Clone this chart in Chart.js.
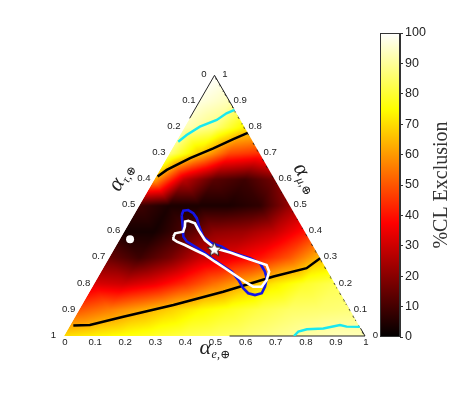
<!DOCTYPE html>
<html>
<head>
<meta charset="utf-8">
<script src="https://cdn.jsdelivr.net/npm/chart.js@4.4.1/dist/chart.umd.min.js"></script>
<style>
  html, body { margin: 0; padding: 0; background: #fff; }
  #wrap { position: relative; width: 457px; height: 398px; }
  #tern { position: absolute; left: 0; top: 0; width: 457px; height: 398px; }
  #cbar { position: absolute; left: 370px; top: 0; width: 87px; height: 398px; }
</style>
</head>
<body>
<div id="wrap">
  <canvas id="tern" width="457" height="398"></canvas>
  <canvas id="cbar" width="87" height="398"></canvas>
</div>
<script>
// ternary tick values and labels (same on all three sides)
const tickVals = [0, 0.1, 0.2, 0.3, 0.4, 0.5, 0.6, 0.7, 0.8, 0.9, 1];
const tickText = ['0', '0.1', '0.2', '0.3', '0.4', '0.5', '0.6', '0.7', '0.8', '0.9', '1'];
const cbTicks = [0, 10, 20, 30, 40, 50, 60, 70, 80, 90, 100];

// %CL exclusion read on a 0.1 grid: row k is alpha_mu = k/10, entries are alpha_e = 0, 0.1, ...
const heatRows = [
  [70, 73, 76, 79, 82, 84, 86, 88.5, 91, 93, 93],
  [50, 56, 62, 68, 74, 78, 82, 85, 86, 87],
  [32, 30, 35, 44, 54, 63, 72, 79, 83],
  [15, 9, 17, 29, 34, 40, 50, 65],
  [3, 3, 11, 21, 23, 29, 40],
  [9, 4, 4, 4, 7, 22],
  [62, 28, 13, 9, 17],
  [87, 67, 48, 44],
  [93, 87, 73],
  [97, 93],
  [100]
];

// contours, points as [alpha_e, alpha_mu]
const blackUpper = [[0.005, 0.612], [0.023, 0.637], [0.078, 0.682], [0.136, 0.72], [0.185, 0.755], [0.221, 0.779]];
const blackLower = [[0.011, 0.040], [0.065, 0.042], [0.160, 0.074], [0.304, 0.119], [0.444, 0.170], [0.582, 0.228], [0.676, 0.260], [0.702, 0.298]];
const cyanUpper = [[0.007, 0.745], [0.022, 0.771], [0.050, 0.803], [0.093, 0.829], [0.113, 0.854], [0.133, 0.867]];
const cyanLower = [[0.764, 0], [0.770, 0.017], [0.794, 0.026], [0.847, 0.029], [0.896, 0.042], [0.921, 0.036], [0.965, 0.035]];
const blueRegion = [
  [0.159, 0.464], [0.156, 0.481], [0.171, 0.483], [0.194, 0.471], [0.215, 0.452], [0.240, 0.419],
  [0.272, 0.381], [0.313, 0.356], [0.353, 0.343], [0.390, 0.323], [0.429, 0.311], [0.469, 0.298],
  [0.512, 0.279], [0.544, 0.247], [0.563, 0.221], [0.573, 0.189], [0.575, 0.164], [0.556, 0.157],
  [0.530, 0.164], [0.504, 0.183], [0.472, 0.215], [0.434, 0.247], [0.388, 0.272], [0.342, 0.298],
  [0.301, 0.323], [0.264, 0.343], [0.227, 0.362], [0.206, 0.381], [0.185, 0.419], [0.159, 0.464]
];
const whiteRegion = [
  [0.173, 0.381], [0.172, 0.394], [0.196, 0.400], [0.192, 0.419], [0.183, 0.439], [0.192, 0.442],
  [0.219, 0.432], [0.243, 0.407], [0.284, 0.368], [0.334, 0.336], [0.392, 0.320], [0.445, 0.302],
  [0.498, 0.285], [0.537, 0.272], [0.558, 0.247], [0.566, 0.215], [0.562, 0.189], [0.534, 0.189],
  [0.497, 0.208], [0.451, 0.234], [0.405, 0.260], [0.359, 0.285], [0.313, 0.311], [0.270, 0.330],
  [0.227, 0.349], [0.194, 0.362], [0.178, 0.371], [0.173, 0.381]
];
const bestFit = [[0.333, 0.333]];
const dotPoint = [[0.034, 0.371]];

const S = Math.sqrt(3) / 2;
const toXY = p => ({ x: p[0] + p[1] / 2, y: p[1] * S });

function hot(v) {
  const t = Math.max(0, Math.min(1, v / 100));
  const r = Math.min(1, t / 0.375);
  const g = Math.max(0, Math.min(1, (t - 0.375) / 0.375));
  const b = Math.max(0, (t - 0.75) / 0.25);
  return [r, g, b].map(c => Math.round(c * 255));
}

// linear inside each triangle of the grid
function heatAt(e, m) {
  const n = heatRows.length - 1;
  const s = e + m;
  if (s > 1) { e /= s; m /= s; }
  const u = e * n, w = m * n;
  let i = Math.min(Math.floor(u), n - 1), j = Math.min(Math.floor(w), n - 1);
  while (i + j > n - 1) { if (i > 0) i--; else j--; }
  const fu = u - i, fw = w - j;
  const g = (a, b) => heatRows[b][a];
  if (fu + fw <= 1) return g(i, j) * (1 - fu - fw) + g(i + 1, j) * fu + g(i, j + 1) * fw;
  return g(i + 1, j + 1) * (fu + fw - 1) + g(i + 1, j) * (1 - fw) + g(i, j + 1) * (1 - fu);
}

let heatImg = null;
function buildHeat(W) {
  const c = document.createElement('canvas');
  c.width = W; c.height = W;
  const g = c.getContext('2d');
  const img = g.createImageData(W, W);
  for (let j = 0; j < W; j++) {
    for (let i = 0; i < W; i++) {
      const col = hot(heatAt((i + 0.5) / W, (j + 0.5) / W));
      const k = (j * W + i) * 4;
      img.data[k] = col[0]; img.data[k + 1] = col[1]; img.data[k + 2] = col[2]; img.data[k + 3] = 255;
    }
  }
  g.putImageData(img, 0, 0);
  return c;
}

function starImage(r) {
  const s = Math.ceil(r * 2 + 4);
  const c = document.createElement('canvas');
  c.width = s; c.height = s;
  const g = c.getContext('2d');
  g.translate(s / 2, s / 2 + 0.5);
  g.beginPath();
  for (let k = 0; k < 10; k++) {
    const rr = k % 2 ? r * 0.45 : r;
    const a = -Math.PI / 2 + k * Math.PI / 5;
    g.lineTo(rr * Math.cos(a), rr * Math.sin(a));
  }
  g.closePath();
  g.fillStyle = '#fff';
  g.fill();
  g.lineWidth = 1;
  g.strokeStyle = '#222';
  g.stroke();
  return c;
}

const heatPlugin = {
  id: 'heat',
  beforeDatasetsDraw(chart) {
    const { ctx, scales: { x, y } } = chart;
    const P = (e, m) => [x.getPixelForValue(e + m / 2), y.getPixelForValue(m * S)];
    const W = 240;
    if (!heatImg) heatImg = buildHeat(W);
    const a = P(0, 0), b = P(1, 0), c = P(0, 1);
    ctx.save();
    ctx.beginPath();
    ctx.moveTo(a[0], a[1]); ctx.lineTo(b[0], b[1]); ctx.lineTo(c[0], c[1]); ctx.closePath();
    ctx.clip();
    ctx.imageSmoothingEnabled = true;
    ctx.transform((b[0] - a[0]) / W, (b[1] - a[1]) / W, (c[0] - a[0]) / W, (c[1] - a[1]) / W, a[0], a[1]);
    ctx.drawImage(heatImg, 0, 0);
    ctx.restore();

    // visible parts of the triangle frame
    const segs = [[[0, 1], [0, 0.835]], [[0, 1], [0.127, 0.873]], [[0.55, 0], [1, 0]], [[1, 0], [0.97, 0.03]]];
    ctx.save();
    ctx.strokeStyle = '#222';
    ctx.lineWidth = 1;
    segs.forEach(sg => {
      const p0 = P(sg[0][0], sg[0][1]), p1 = P(sg[1][0], sg[1][1]);
      ctx.beginPath(); ctx.moveTo(p0[0], p0[1]); ctx.lineTo(p1[0], p1[1]); ctx.stroke();
    });
    ctx.restore();
  }
};

function drawAlpha(ctx, sub, cx, cy, rot) {
  ctx.save();
  ctx.translate(cx, cy);
  ctx.rotate(rot);
  const big = 'italic 22px "Liberation Serif", "DejaVu Serif", serif';
  const small = 'italic 12px "Liberation Serif", "DejaVu Serif", serif';
  ctx.font = big;
  const w1 = ctx.measureText('α').width;
  ctx.font = small;
  const w2 = ctx.measureText(sub).width;
  const x0 = -(w1 + w2) / 2;
  ctx.fillStyle = '#222';
  ctx.textAlign = 'left';
  ctx.textBaseline = 'alphabetic';
  ctx.font = big;
  ctx.fillText('α', x0, 4);
  ctx.font = small;
  ctx.fillText(sub, x0 + w1 + 0.5, 7.5);
  ctx.restore();
}

const labelPlugin = {
  id: 'ternLabels',
  afterDraw(chart) {
    const { ctx, scales: { x, y } } = chart;
    const P = (e, m) => [x.getPixelForValue(e + m / 2), y.getPixelForValue(m * S)];
    ctx.save();
    ctx.fillStyle = '#222';
    ctx.font = '9.6px "Liberation Sans", Arial, sans-serif';
    ctx.textBaseline = 'middle';
    ctx.textAlign = 'center';
    tickVals.forEach((t, i) => {
      const L = P(0, 1 - t);
      ctx.fillText(tickText[i], L[0] - 10.5, L[1] - 1);
      const R = P(1 - t, t);
      ctx.fillText(tickText[i], R[0] + 10.5, R[1] - 1);
      const B = P(t, 0);
      ctx.fillText(tickText[i], B[0] + 1, B[1] + 6);
    });
    ctx.restore();
    const bt = P(0.5, 0), lt = P(0, 0.61), rt = P(0.39, 0.61);
    drawAlpha(ctx, 'e,⊕', bt[0], bt[1] + 14, 0);
    drawAlpha(ctx, 'τ,⊕', lt[0] - 33, lt[1] + 1, -Math.PI / 3);
    drawAlpha(ctx, 'μ,⊕', rt[0] + 31, rt[1] + 2, Math.PI / 3);
  }
};

const line = (pts, color, w, order) => ({
  data: pts.map(toXY), showLine: true, borderColor: color, borderWidth: w,
  pointRadius: 0, fill: false, tension: 0, order: order
});

new Chart(document.getElementById('tern'), {
  type: 'scatter',
  data: {
    datasets: [
      { data: bestFit.map(toXY), pointStyle: starImage(7.5), pointRadius: 8, order: 0 },
      { data: dotPoint.map(toXY), pointStyle: 'circle', pointRadius: 4, backgroundColor: '#fff', borderWidth: 0, order: 1 },
      line(whiteRegion, '#ffffff', 2.6, 2),
      line(blueRegion, '#1414e6', 2.6, 3),
      line(blackUpper, '#000', 2.5, 4),
      line(blackLower, '#000', 2.5, 4),
      line(cyanUpper, '#19e8f0', 2.4, 5),
      line(cyanLower, '#19e8f0', 2.4, 5)
    ]
  },
  options: {
    responsive: false,
    animation: false,
    events: [],
    layout: { padding: { left: 64, right: 92, top: 75.3, bottom: 62 } },
    plugins: { legend: { display: false }, tooltip: { enabled: false } },
    scales: {
      x: { type: 'linear', min: 0, max: 1, display: false },
      y: { type: 'linear', min: 0, max: S, display: false }
    }
  },
  plugins: [heatPlugin, labelPlugin]
});

// colour bar
const cbPlugin = {
  id: 'cbFrame',
  afterDraw(chart) {
    const { ctx, chartArea: a } = chart;
    ctx.save();
    ctx.strokeStyle = '#333';
    ctx.lineWidth = 1;
    ctx.strokeRect(a.left + 0.5, a.top + 0.5, a.right - a.left - 1, a.bottom - a.top - 1);
    ctx.translate(71.5, (a.top + a.bottom) / 2);
    ctx.rotate(-Math.PI / 2);
    ctx.fillStyle = '#333';
    ctx.font = '20px "Liberation Serif", "DejaVu Serif", serif';
    ctx.textAlign = 'center';
    ctx.textBaseline = 'middle';
    ctx.fillText('%CL Exclusion', 0, 0);
    ctx.restore();
  }
};

new Chart(document.getElementById('cbar'), {
  type: 'bar',
  data: {
    labels: [''],
    datasets: [{
      data: [[0, 100]],
      borderWidth: 0,
      barPercentage: 1,
      categoryPercentage: 1,
      backgroundColor: c => {
        const { ctx, chartArea } = c.chart;
        if (!chartArea) return '#000';
        const g = ctx.createLinearGradient(0, chartArea.bottom, 0, chartArea.top);
        [0, 37.5, 75, 100].forEach(v => g.addColorStop(v / 100, 'rgb(' + hot(v).join(',') + ')'));
        return g;
      }
    }]
  },
  options: {
    responsive: false,
    animation: false,
    events: [],
    layout: { padding: { left: 10, top: 33, bottom: 61, right: 0 } },
    plugins: { legend: { display: false }, tooltip: { enabled: false } },
    scales: {
      x: { display: false },
      y: {
        position: 'right', min: 0, max: 100,
        afterFit: s => { s.width = 57; },
        afterBuildTicks: s => { s.ticks = cbTicks.map(v => ({ value: v })); },
        grid: { drawOnChartArea: false, tickLength: 3, color: '#333' },
        border: { display: true, color: '#333' },
        ticks: { padding: 2, color: '#222', font: { size: 12.5, family: '"Liberation Sans", Arial, sans-serif' } }
      }
    }
  },
  plugins: [cbPlugin]
});
</script>
</body>
</html>
